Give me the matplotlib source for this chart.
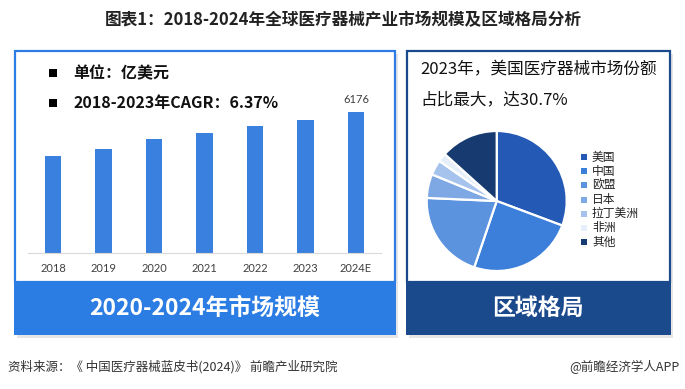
import matplotlib
matplotlib.use("Agg")
import matplotlib.pyplot as plt
from matplotlib.patches import Rectangle

plt.rcParams['font.family'] = ['Noto Sans CJK SC', 'DejaVu Sans']

# ---------------- data ----------------
years = ['2018', '2019', '2020', '2021', '2022', '2023', '2024E']
market_size = [4250, 4530, 4990, 5230, 5550, 5810, 6176]
label_year = '2024E'

regions = ['美国', '中国', '欧盟', '日本', '拉丁美洲', '非洲', '其他']
region_share = [30.7, 24.5, 20.5, 5.5, 3.5, 2.0, 13.3]
region_colors = ['#2459B5', '#3C7FDA', '#5B93DE', '#7DA8E4', '#A6C3EE', '#E6EEF9', '#173B70']

title = '图表1：2018-2024年全球医疗器械产业市场规模及区域格局分析'
left_notes = ['单位：亿美元', '2018-2023年CAGR：6.37%']
left_band = '2020-2024年市场规模'
right_title = ['2023年，美国医疗器械市场份额', '占比最大，达30.7%']
right_band = '区域格局'
source = '资料来源：《 中国医疗器械蓝皮书(2024)》 前瞻产业研究院'
credit = '@前瞻经济学人APP'

# ---------------- layout helpers (pixel coords, origin top-left) ----------------
W, H = 685, 389
fig = plt.figure(figsize=(W / 100, H / 100), dpi=100)
fig.patch.set_facecolor('white')


def fx(x):
    return x / W


def fy(y):
    return 1 - y / H


def rect(x0, y0, x1, y1, **kw):
    r = Rectangle((fx(x0), fy(y1)), (x1 - x0) / W, (y1 - y0) / H,
                  transform=fig.transFigure, **kw)
    fig.add_artist(r)
    return r


def axes_px(x0, y0, x1, y1):
    return fig.add_axes([fx(x0), fy(y1), (x1 - x0) / W, (y1 - y0) / H])


BLUE = '#2B7CE3'
NAVY = '#1B4A8C'

# shadows
rect(17, 54, 398, 338, facecolor='#e6e6e6', edgecolor='none', zorder=0)
rect(409, 54, 673, 338, facecolor='#e6e6e6', edgecolor='none', zorder=0)

# left panel
rect(15, 51, 395, 282, facecolor='white', edgecolor=BLUE, linewidth=1.6, zorder=1)
rect(14, 281, 396, 335, facecolor=BLUE, edgecolor='none', zorder=1)
# right panel
rect(407, 51, 670, 282, facecolor='white', edgecolor=NAVY, linewidth=1.6, zorder=1)
rect(406, 281, 671, 335, facecolor=NAVY, edgecolor='none', zorder=1)

# title
fig.text(fx(343), fy(20), title, ha='center', va='center', fontsize=12,
         fontweight='bold', color='#222222')

# ---------------- bar chart ----------------
base_y, top_y = 253.3, 60
bar_top_px = 111.7
ymax = max(market_size) * (base_y - top_y) / (base_y - bar_top_px)
axb = axes_px(27.75, top_y, 381.25, base_y)
axb.set_zorder(2)
axb.patch.set_alpha(0)
xs = list(range(len(years)))
axb.bar(xs, market_size, width=0.32, color='#3A80DE')
axb.set_xlim(-0.5, len(years) - 0.5)
axb.set_ylim(0, ymax)
axb.set_xticks(xs)
axb.set_xticklabels(years, fontsize=8, color='#404040', family=['Lato', 'DejaVu Sans'])
axb.tick_params(axis='x', length=0, pad=7)
axb.set_yticks([])
for s in ['top', 'left', 'right']:
    axb.spines[s].set_visible(False)
axb.spines['bottom'].set_color('#d9d9d9')
axb.spines['bottom'].set_linewidth(0.8)
i = years.index(label_year)
axb.annotate(str(market_size[i]), (xs[i], market_size[i]), xytext=(0, 9.1),
             textcoords='offset points', ha='center', va='center', fontsize=8,
             color='#404040', family=['Lato', 'DejaVu Sans'])

# notes
for k, (note, yy) in enumerate(zip(left_notes, [73, 103])):
    rect(49, yy - 4, 57, yy + 4, facecolor='black', edgecolor='none', zorder=3)
    fig.text(fx(73), fy(yy), note, ha='left', va='center', fontsize=11.5,
             fontweight='bold', color='#111111', zorder=3)

fig.text(fx(205), fy(308), left_band, ha='center', va='center', fontsize=16.5,
         fontweight='bold', color='white', zorder=3)

# ---------------- pie chart ----------------
cx, cy, r = 496.7, 201, 70
pad = 1.04
axp = axes_px(cx - r * pad, cy - r * pad, cx + r * pad, cy + r * pad)
axp.set_zorder(2)
axp.pie(region_share, colors=region_colors, startangle=90, counterclock=False,
        radius=1, wedgeprops=dict(edgecolor='white', linewidth=1.6))
axp.set_xlim(-pad, pad)
axp.set_ylim(-pad, pad)
axp.set_aspect('equal')

for k, (lab, col) in enumerate(zip(regions, region_colors)):
    yy = 157 + k * 14.2
    rect(581, yy - 3, 587, yy + 3, facecolor=col, edgecolor='none', zorder=3)
    fig.text(fx(592), fy(yy), lab, ha='left', va='center', fontsize=8.5,
             color='#222222', zorder=3)

fig.text(fx(420), fy(70), right_title[0], ha='left', va='center', fontsize=12,
         fontweight='medium', color='#111111', zorder=3)
fig.text(fx(420), fy(100), right_title[1], ha='left', va='center', fontsize=12,
         fontweight='medium', color='#111111', zorder=3)

fig.text(fx(538), fy(308), right_band, ha='center', va='center', fontsize=16.5,
         fontweight='bold', color='white', zorder=3)

# ---------------- footer ----------------
fig.text(fx(8), fy(367), source, ha='left', va='center', fontsize=9, color='#333333')
fig.text(fx(680), fy(367), credit, ha='right', va='center', fontsize=9, color='#333333')

fig.savefig('out.png', dpi=100, facecolor='white')
